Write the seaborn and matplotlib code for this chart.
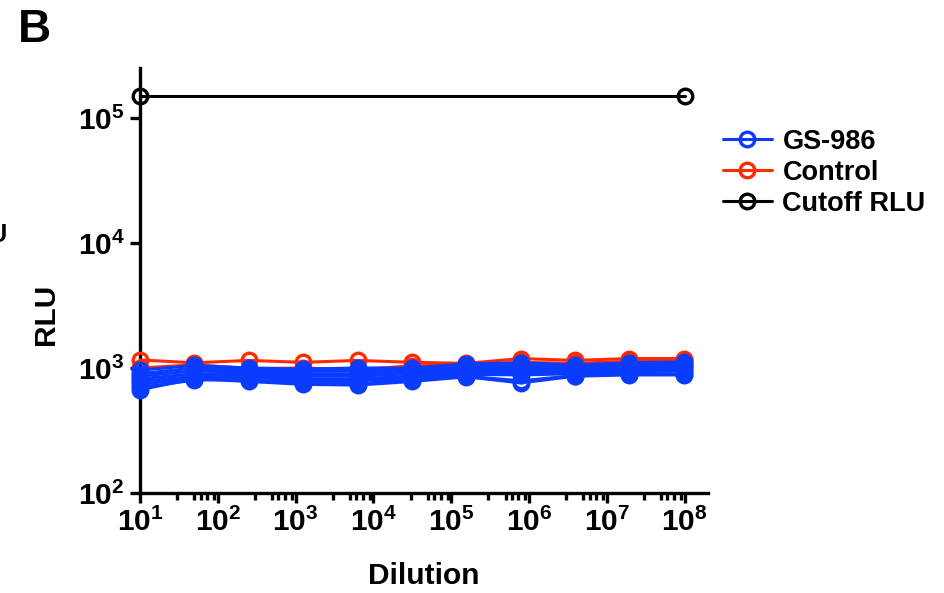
import numpy as np
import pandas as pd
import matplotlib
matplotlib.use("Agg")
import matplotlib.pyplot as plt
from matplotlib.lines import Line2D
from matplotlib.ticker import LogLocator, FixedLocator, NullFormatter
import seaborn as sns

# ---------------- data ----------------
dilutions = [10, 50, 250, 1250, 6250, 31250, 156250, 781250, 3906250, 19531250, 97656250]

control = [
    [1160, 1100, 1150, 1110, 1150, 1110, 1090, 1190, 1150, 1190, 1190],
    [1000, 1060, 990, 1000, 970, 1040, 1060, 1110, 1090, 1130, 1160],
]
gs986 = [
    [960, 1050, 1000, 980, 1000, 1000, 1080, 1100, 1060, 1100, 1120],
    [900, 1000, 960, 940, 950, 970, 1020, 1050, 1020, 1060, 1080],
    [860, 950, 930, 900, 900, 940, 980, 1000, 990, 1030, 1050],
    [820, 900, 900, 860, 860, 900, 950, 960, 960, 1000, 1020],
    [780, 860, 870, 820, 820, 860, 920, 920, 930, 960, 980],
    [740, 830, 840, 790, 790, 830, 890, 880, 900, 930, 950],
    [700, 800, 810, 760, 750, 800, 860, 790, 870, 900, 900],
    [670, 820, 780, 740, 730, 780, 850, 760, 860, 880, 880],
]
cutoff_x = [10, 1e8]
cutoff_y = [150000, 150000]

series_names = ["GS-986", "Control", "Cutoff RLU"]
xticks = [1e1, 1e2, 1e3, 1e4, 1e5, 1e6, 1e7, 1e8]
yticks = [1e2, 1e3, 1e4, 1e5]

BLUE = "#0A3CFF"
RED = "#FF2A00"
BLACK = "#000000"

# ---------------- build tables ----------------
def long_df(reps, group):
    rows = []
    for i, r in enumerate(reps):
        for d, v in zip(dilutions, r):
            rows.append({"Dilution": d, "RLU": v, "group": group, "rep": i})
    return pd.DataFrame(rows)

df_ctrl = long_df(control, "Control")
df_gs = long_df(gs986, "GS-986")
df_cut = pd.DataFrame({"Dilution": cutoff_x, "RLU": cutoff_y, "group": "Cutoff RLU", "rep": 0})

# ---------------- style ----------------
sns.set_style("ticks")
plt.rcParams["font.family"] = ["Liberation Sans", "DejaVu Sans"]
plt.rcParams["font.weight"] = "bold"
plt.rcParams["text.color"] = "black"
plt.rcParams["axes.labelcolor"] = "black"
plt.rcParams["xtick.color"] = "black"
plt.rcParams["ytick.color"] = "black"
plt.rcParams["axes.edgecolor"] = "black"
plt.rcParams["mathtext.fontset"] = "custom"
plt.rcParams["mathtext.rm"] = "Liberation Sans:bold"
plt.rcParams["mathtext.bf"] = "Liberation Sans:bold"
plt.rcParams["mathtext.it"] = "Liberation Sans:bold"

fig = plt.figure(figsize=(9.45, 5.93), dpi=100)
ax = fig.add_axes([140 / 945, 1 - 493 / 593, (708 - 140) / 945, (493 - 68) / 593])

MS = 10.5
MEW = 2.4
LW = 2.2
line_kw = dict(marker="o", markersize=MS, markeredgewidth=MEW, linewidth=LW, clip_on=False)

sns.lineplot(data=df_ctrl, x="Dilution", y="RLU", units="rep", estimator=None,
             color=RED, ax=ax, legend=False, zorder=3, **line_kw)
sns.lineplot(data=df_gs, x="Dilution", y="RLU", units="rep", estimator=None,
             color=BLUE, ax=ax, legend=False, zorder=4, **line_kw)
sns.lineplot(data=df_cut, x="Dilution", y="RLU", units="rep", estimator=None,
             color=BLACK, ax=ax, legend=False, zorder=5, **line_kw)
for ln in ax.lines:
    ln.set_markerfacecolor("none")
    ln.set_markeredgecolor(ln.get_color())

ax.set_xscale("log")
ax.set_yscale("log")
ax.set_xlim(10, 10 ** 8.3)
ax.set_ylim(100, 10 ** 5.4)

ax.xaxis.set_major_locator(FixedLocator(xticks))
ax.set_xticklabels([r"$\mathbf{10^{%d}}$" % int(np.log10(t)) for t in xticks])
ax.xaxis.set_minor_locator(LogLocator(base=10, subs=(3, 5, 6, 7.3, 9), numticks=20))
ax.xaxis.set_minor_formatter(NullFormatter())
ax.yaxis.set_major_locator(FixedLocator(yticks))
ax.set_yticklabels([r"$\mathbf{10^{%d}}$" % int(np.log10(t)) for t in yticks])
ax.yaxis.set_minor_locator(FixedLocator([]))

for s in ["top", "right"]:
    ax.spines[s].set_visible(False)
for s in ["left", "bottom"]:
    ax.spines[s].set_linewidth(2.4)
ax.tick_params(axis="both", which="major", length=7, width=2.4, labelsize=21.5, pad=4)
ax.tick_params(axis="x", which="minor", length=5, width=2.4)

ax.set_xlabel("Dilution", fontsize=21.5, fontweight="bold", labelpad=18)
ax.set_ylabel("RLU", fontsize=21.5, fontweight="bold")
ax.yaxis.set_label_coords(-0.14, 0.42)

handles = [
    Line2D([], [], color=c, marker="o", markersize=MS, markerfacecolor="none",
           markeredgecolor=c, markeredgewidth=MEW, linewidth=LW)
    for c in (BLUE, RED, BLACK)
]
fig.legend(handles, series_names, loc="upper left", bbox_to_anchor=(712 / 945, 1 - 118 / 593),
           frameon=False, prop={"size": 19.5, "weight": "bold"}, handlelength=1.8,
           handletextpad=0.4, labelspacing=0.18, borderaxespad=0)

fig.text(18 / 945, 1 - 30 / 593, "B", fontsize=33, fontweight="bold", ha="left", va="center")
fig.text(8 / 945, 1 - 235 / 593, "RLU", fontsize=18, fontweight="bold", ha="right", va="center")

fig.savefig("out.png", dpi=100)
